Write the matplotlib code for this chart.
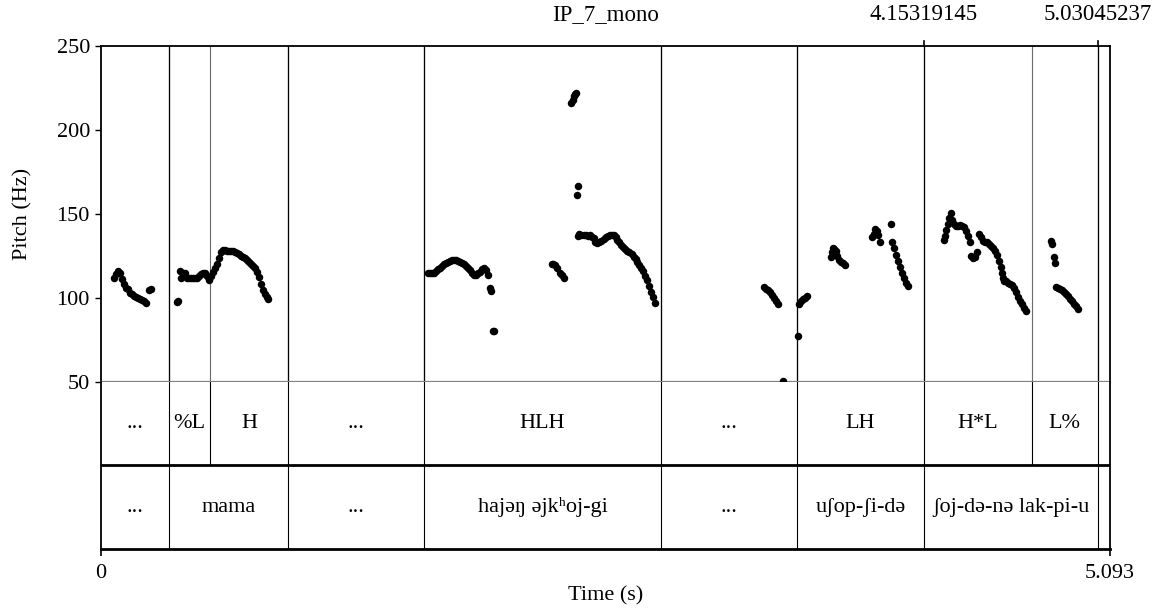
import matplotlib
matplotlib.use("Agg")
import matplotlib.pyplot as plt
import matplotlib.transforms as mtransforms

plt.rcParams['font.family'] = ['Liberation Serif', 'DejaVu Serif']
FS = 16

# ---------------- data ----------------
x_max = 5.093
y_ticks = [50, 100, 150, 200, 250]

# pitch contours (time in s, F0 in Hz)
t_seg1 = [0.066, 0.076, 0.086, 0.096, 0.106, 0.116, 0.126, 0.136, 0.146, 0.156, 0.166,
          0.177, 0.187, 0.197, 0.207, 0.217, 0.227, 0.242, 0.252]
f_seg1 = [112, 114, 116, 115, 111, 108, 106, 105, 103, 102, 101,
          100.5, 100, 99, 98.5, 98, 97, 104.5, 105]

t_mama = [0.383, 0.390, 0.398, 0.403, 0.414, 0.424, 0.434, 0.444, 0.454, 0.464, 0.474,
          0.484, 0.494, 0.504, 0.514, 0.524, 0.535, 0.545, 0.555, 0.565, 0.575, 0.585,
          0.595, 0.605, 0.615, 0.625, 0.635, 0.645, 0.656, 0.666, 0.676, 0.686, 0.696,
          0.706, 0.716, 0.726, 0.736, 0.746, 0.756, 0.766, 0.777, 0.787, 0.797, 0.807,
          0.817, 0.827, 0.837, 0.845]
f_mama = [97.5, 98, 116, 112, 115, 115, 112, 111.5, 111.5, 111.5, 111.5,
          112, 113, 114, 115, 115, 113, 110.5, 113, 115.5, 117.5, 120,
          123.5, 127, 128.5, 128.5, 128, 128, 128, 128, 127, 126.5, 126,
          125, 124.5, 123.5, 122.5, 121.5, 120, 119, 117.5, 115.5, 112.5, 108,
          104.5, 102.5, 100.5, 99.5]

t_hlh_a = [1.649, 1.659, 1.669, 1.679, 1.689, 1.699, 1.709, 1.720, 1.730, 1.740, 1.750,
           1.760, 1.770, 1.780, 1.790, 1.800, 1.810, 1.820, 1.830, 1.841, 1.851, 1.861,
           1.871, 1.881, 1.891, 1.901, 1.911, 1.921, 1.931, 1.941, 1.951, 1.962, 1.969,
           1.977, 1.982]
f_hlh_a = [114.7, 114.5, 114.5, 115, 116, 117, 118, 119, 120, 121, 121.5,
           122, 122.5, 122.5, 122.5, 122, 121.5, 121, 120, 119, 118, 116.5,
           114.5, 113.5, 113.5, 114.5, 115.5, 117, 117.5, 116.5, 113.5, 106, 104,
           80.5, 80]

t_hlh_b = [2.274, 2.284, 2.294, 2.304, 2.315, 2.325, 2.335,
           2.373, 2.380, 2.388, 2.395, 2.400, 2.403, 2.408]
f_hlh_b = [120, 120, 119.5, 118, 115, 113.5, 112,
           216, 218, 220, 221.5, 222, 161, 166.5]

t_hlh_c = [2.408, 2.415, 2.425, 2.436, 2.446, 2.456, 2.466, 2.476, 2.486, 2.496, 2.506,
           2.516, 2.526, 2.537, 2.547, 2.557, 2.567, 2.577, 2.587, 2.597, 2.607, 2.617,
           2.627, 2.637, 2.647, 2.657, 2.667, 2.678, 2.688, 2.698, 2.708, 2.718, 2.728,
           2.738, 2.748, 2.758, 2.768, 2.778, 2.788, 2.798]
f_hlh_c = [137, 138, 137.5, 137.5, 137.5, 137, 137.5, 136.5, 135.5, 133.5, 132.5,
           133, 134, 135, 136, 137, 137.5, 137.5, 137.5, 136, 134.5, 133,
           131.5, 130, 129, 128, 127, 126, 124.5, 123, 121.5, 119.5, 118,
           116, 113, 110.5, 107, 103.5, 100.5, 97]

t_lh = [3.348, 3.358, 3.368, 3.378, 3.389, 3.399, 3.409, 3.416, 3.442, 3.520,
        3.525, 3.535, 3.545, 3.555, 3.565,
        3.684, 3.689, 3.694, 3.701, 3.709, 3.716, 3.726, 3.736, 3.746, 3.757,
        3.893, 3.900, 3.908, 3.916, 3.923, 3.933, 3.986,
        3.994, 4.004, 4.014, 4.024, 4.034, 4.044, 4.054, 4.064, 4.074]
f_lh = [106.5, 105.5, 104.5, 103.5, 101.5, 100, 98, 96.5, 50.6, 77,
        96.5, 98, 99, 100, 101,
        124, 127, 129.5, 129, 128, 125, 122.5, 121.5, 120.5, 119.5,
        136, 138, 141, 140, 137.5, 133, 144,
        133.5, 129.5, 125.5, 122, 118.5, 115, 111.5, 109, 107]

t_hl = [4.256, 4.261, 4.266, 4.274, 4.281, 4.289, 4.296, 4.306, 4.317, 4.327, 4.337,
        4.347, 4.357, 4.367, 4.377, 4.387, 4.392, 4.402, 4.412, 4.422, 4.432, 4.443,
        4.453, 4.463, 4.473, 4.483, 4.493, 4.503, 4.513, 4.523, 4.533, 4.541, 4.546,
        4.551, 4.559, 4.569, 4.579, 4.589, 4.599, 4.609, 4.619, 4.629, 4.640, 4.650,
        4.660, 4.670]
f_hl = [134.5, 137, 140.5, 144, 147.5, 150.5, 146.5, 144, 143, 143, 143.5,
        143, 142, 140, 137, 133.5, 125, 123.5, 124, 127, 138, 136,
        134, 133.5, 133, 132, 131, 129.5, 128, 125.5, 122, 118.5, 115,
        111.5, 110, 110, 109, 108, 107.5, 106, 103.5, 100.5, 98, 96,
        94, 92]

t_lpct = [4.793, 4.801, 4.811, 4.816, 4.821, 4.831, 4.841, 4.851, 4.861, 4.871,
          4.881, 4.891, 4.901, 4.911, 4.921, 4.931]
f_lpct = [134, 132, 124.5, 120.5, 106.5, 106, 105, 104.5, 103.5, 102,
          101, 99.5, 98, 96.5, 95, 93.5]

# TextGrid tiers
tone_bounds = [0.0, 0.3432, 0.5502, 0.9439, 1.6304, 2.8266, 3.5131, 4.15319145,
               4.6993, 5.03045237, 5.093]
tone_labels = ['...', '%L', 'H', '...', 'HLH', '...', 'LH', 'H*L', 'L%', '']
word_bounds = [0.0, 0.3432, 0.9439, 1.6304, 2.8266, 3.5131, 4.15319145,
               5.03045237, 5.093]
word_labels = ['...', 'mama', '...', 'hajəŋ əjkʰoj-gi', '...', 'uʃop-ʃi-də',
               'ʃoj-də-nə lak-pi-u', '']

title_text = 'IP_7_mono'
cursor_times = [4.15319145, 5.03045237]
cursor_labels = ['4.15319145', '5.03045237']

# ---------------- figure ----------------
W, H = 1159, 608
fig = plt.figure(figsize=(W / 100, H / 100), dpi=100)
left = 101 / W
width = 1009 / W
ax_p = fig.add_axes([left, (H - 381.7) / H, width, 335.7 / H])
ax_t = fig.add_axes([left, (H - 549) / H, width, 167.3 / H])

for ax in (ax_p, ax_t):
    ax.set_xlim(0, x_max)

# pitch panel
ax_p.set_ylim(50, 250)
ax_p.set_yticks(y_ticks)
ax_p.set_yticklabels([str(v) for v in y_ticks], fontsize=FS)
ax_p.tick_params(axis='y', direction='out', length=4, width=1, pad=4)
ax_p.set_xticks([])
ax_p.set_ylabel('Pitch (Hz)', fontsize=FS, labelpad=17)
for s in ('left', 'top', 'right'):
    ax_p.spines[s].set_linewidth(1.3)
    ax_p.spines[s].set_color('black')
ax_p.spines['bottom'].set_color('#808080')
ax_p.spines['bottom'].set_linewidth(1.6)

# boundaries inside pitch panel
for b in tone_bounds[1:-1]:
    ax_p.axvline(b, color='#6a6a6a', lw=0.8, zorder=1)
for b in word_bounds[1:-1]:
    ax_p.axvline(b, color='black', lw=0.9, zorder=1)

# pitch points
for tt, ff in [(t_seg1, f_seg1), (t_mama, f_mama), (t_hlh_a, f_hlh_a),
               (t_hlh_b, f_hlh_b), (t_hlh_c, f_hlh_c), (t_lh, f_lh),
               (t_hl, f_hl), (t_lpct, f_lpct)]:
    ax_p.plot(tt, ff, 'o', color='black', ms=5.4, mew=0, zorder=3, clip_on=False)

# top labels
trans_top = mtransforms.blended_transform_factory(ax_p.transData, ax_p.transAxes)
off = mtransforms.offset_copy(trans_top, fig=fig, x=0, y=26, units='dots')
ax_p.text(x_max / 2, 1.0, title_text, transform=off, ha='center', va='baseline',
          fontsize=FS + 0.5)
for ct, cl in zip(cursor_times, cursor_labels):
    ax_p.plot([ct, ct], [1.0, 1.014], transform=trans_top, color='black', lw=1.2,
              clip_on=False)
    ax_p.text(ct, 1.0, cl, transform=off, ha='center', va='baseline', fontsize=FS + 0.5)

# tier panel
ax_t.set_ylim(0, 2)
ax_t.set_yticks([])
ax_t.set_xticks([0, x_max])
ax_t.set_xticklabels(['0', '5.093'], fontsize=FS)
ax_t.tick_params(axis='x', direction='out', length=5, width=1.2, pad=6)
ax_t.spines['top'].set_visible(False)
for s in ('left', 'right'):
    ax_t.spines[s].set_linewidth(1.3)
ax_t.spines['bottom'].set_linewidth(2.0)
ax_t.axhline(1.0, color='black', lw=2.0)
ax_t.set_xlabel('Time (s)', fontsize=FS, labelpad=2)

for b in tone_bounds[1:-1]:
    ax_t.plot([b, b], [1, 2], color='black', lw=0.8)
for b in word_bounds[1:-1]:
    ax_t.plot([b, b], [0, 1], color='black', lw=0.8)

for i, lab in enumerate(tone_labels):
    if lab:
        xc = 0.5 * (tone_bounds[i] + tone_bounds[i + 1])
        ax_t.text(xc, 1.5, lab, ha='center', va='center', fontsize=FS)
for i, lab in enumerate(word_labels):
    if lab:
        xc = 0.5 * (word_bounds[i] + word_bounds[i + 1])
        ax_t.text(xc, 0.5, lab, ha='center', va='center', fontsize=FS)

fig.savefig('out.png', dpi=100)
